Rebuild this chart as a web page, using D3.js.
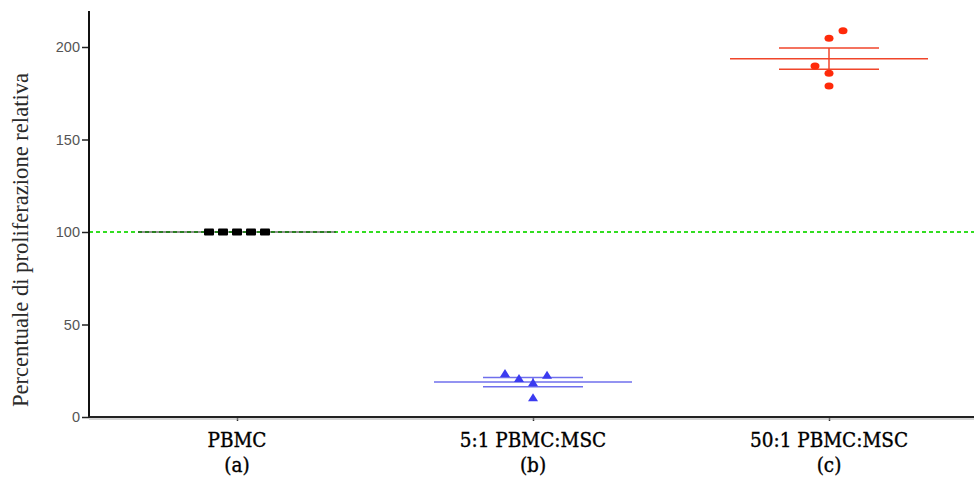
<!DOCTYPE html>
<html><head><meta charset="utf-8">
<script src="https://cdn.jsdelivr.net/npm/d3@7"></script>
<style>body{margin:0;background:#fff}svg{display:block}</style>
</head><body>
<svg id="c" width="974" height="479"></svg>
<script>
const categories = ["PBMC", "5:1 PBMC:MSC", "50:1 PBMC:MSC"];
const subLabels = ["(a)", "(b)", "(c)"];
const yTicks = [0, 50, 100, 150, 200];
const pbmcValues = [100, 100, 100, 100, 100];
const ratio5Values = [23.2, 20.5, 18.2, 22.3, 10.1];
const ratio50Values = [204.7, 208.8, 189.7, 185.8, 178.9];
// column slot of each point within its group (scatter spread)
const pbmcSlots = [-2, -1, 0, 1, 2];
const ratio5Slots = [-2, -1, 0, 1, 0];
const ratio50Slots = [0, 1, -1, 0, 0];
const means = [100, 18.9, 193.7];
const sems = [0, 2.5, 5.7];
const referenceValue = 100;

const groups = [
  {cat: categories[0], values: pbmcValues, slots: pbmcSlots, color: "#000000", line: "#222", shape: "square"},
  {cat: categories[1], values: ratio5Values, slots: ratio5Slots, color: "#3b3bf0", line: "#6f6fec", shape: "triangle"},
  {cat: categories[2], values: ratio50Values, slots: ratio50Slots, color: "#ff2a0a", line: "#f0452a", shape: "ellipse"}
];

const svg = d3.select("#c");
const mLeft = 89, mBottom = 417, mTop = 11, mRight = 977;
const x = d3.scalePoint().domain(categories).range([mLeft, mRight]).padding(0.5);
const y = d3.scaleLinear().domain([0, 200]).range([mBottom, 47]);
const slotW = 14;

// reference dashed line
svg.append("line")
  .attr("x1", mLeft).attr("x2", 974)
  .attr("y1", y(referenceValue)).attr("y2", y(referenceValue))
  .attr("stroke", "#33dd22").attr("stroke-width", 2).attr("stroke-dasharray", "4,3");

groups.forEach((g, i) => {
  const cx = x(g.cat);
  const m = means[i], s = sems[i];
  const G = svg.append("g");
  G.append("line").attr("x1", cx - 99).attr("x2", cx + 99)
    .attr("y1", y(m)).attr("y2", y(m))
    .attr("stroke", g.line).attr("stroke-width", i === 0 ? 1.2 : 1.5);
  if (s > 0) {
    [m + s, m - s].forEach(v => {
      G.append("line").attr("x1", cx - 50).attr("x2", cx + 50)
        .attr("y1", y(v)).attr("y2", y(v))
        .attr("stroke", g.line).attr("stroke-width", 1.5);
    });
    G.append("line").attr("x1", cx).attr("x2", cx)
      .attr("y1", y(m + s)).attr("y2", y(m - s))
      .attr("stroke", g.line).attr("stroke-width", 1.5);
  }
  g.values.forEach((v, j) => {
    const px = cx + g.slots[j] * slotW, py = y(v);
    if (g.shape === "square") {
      G.append("rect").attr("x", px - 5).attr("y", py - 3.5).attr("width", 10).attr("height", 7)
        .attr("rx", 1).attr("fill", g.color);
    } else if (g.shape === "triangle") {
      G.append("path").attr("d", `M${px},${py - 5}L${px + 5},${py + 3}L${px - 5},${py + 3}Z`)
        .attr("fill", g.color);
    } else {
      G.append("ellipse").attr("cx", px).attr("cy", py).attr("rx", 4.5).attr("ry", 3.5)
        .attr("fill", g.color);
    }
  });
});

// y axis
const ya = svg.append("g").attr("transform", `translate(${mLeft},0)`)
  .call(d3.axisLeft(y).tickValues(yTicks).tickSize(7).tickPadding(2).tickSizeOuter(0));
ya.select(".domain").remove();
ya.append("line").attr("x1", 0).attr("x2", 0).attr("y1", mTop).attr("y2", mBottom + 1)
  .attr("stroke", "#111").attr("stroke-width", 2);
ya.selectAll(".tick line").attr("stroke", "#222").attr("stroke-width", 1.5);
ya.selectAll(".tick text").attr("font-family", "Liberation Sans, Arial, sans-serif")
  .attr("font-size", 14.5).attr("fill", "#555");

// x axis
const xa = svg.append("g").attr("transform", `translate(0,${mBottom})`)
  .call(d3.axisBottom(x).tickSize(4).tickSizeOuter(0).tickFormat(""));
xa.select(".domain").remove();
xa.append("line").attr("x1", mLeft - 1).attr("x2", 974).attr("y1", 0).attr("y2", 0)
  .attr("stroke", "#222").attr("stroke-width", 2);
xa.append("line").attr("x1", mLeft).attr("x2", 974).attr("y1", 2).attr("y2", 2)
  .attr("stroke", "#aaa").attr("stroke-width", 1);
xa.selectAll(".tick line").attr("stroke", "#333").attr("stroke-width", 1.5);

// category labels
categories.forEach((c, i) => {
  svg.append("text").attr("x", x(c)).attr("y", 447).attr("text-anchor", "middle")
    .attr("font-family", "DejaVu Serif Condensed, DejaVu Serif, serif").attr("font-size", 20.5)
    .attr("fill", "#000").attr("stroke", "#000").attr("stroke-width", 0.35).text(c);
  svg.append("text").attr("x", x(c)).attr("y", 472).attr("text-anchor", "middle")
    .attr("font-family", "DejaVu Serif Condensed, DejaVu Serif, serif").attr("font-size", 20.5)
    .attr("fill", "#000").attr("stroke", "#000").attr("stroke-width", 0.35).text(subLabels[i]);
});

// y title
svg.append("text").attr("transform", "translate(28,240) rotate(-90)")
  .attr("text-anchor", "middle")
  .attr("font-family", "Liberation Serif, Times New Roman, serif").attr("font-size", 23)
  .attr("textLength", 334).attr("lengthAdjust", "spacingAndGlyphs")
  .attr("fill", "#2a2a2a").text("Percentuale di proliferazione relativa");
</script>
</body></html>
